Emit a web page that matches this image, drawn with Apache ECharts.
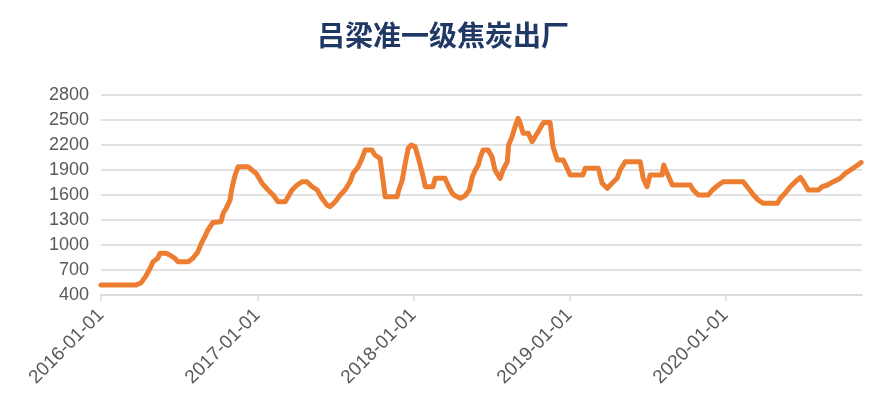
<!DOCTYPE html>
<html>
<head>
<meta charset="utf-8">
<script src="https://cdn.jsdelivr.net/npm/echarts@6/dist/echarts.min.js"></script>
<style>
html,body{margin:0;padding:0;background:#fff;}
#chart{width:886px;height:414px;}
</style>
</head>
<body>
<div id="chart"></div>
<script>
const chartTitle = '吕梁准一级焦炭出厂';
const seriesName = '吕梁准一级焦炭出厂';
const dates = [
'2016-01-01','2016-03-23','2016-04-04','2016-04-14','2016-04-25','2016-05-02','2016-05-13','2016-05-18','2016-06-01','2016-06-10',
'2016-06-22','2016-06-29','2016-07-23','2016-08-03','2016-08-15','2016-08-22','2016-08-31','2016-09-07','2016-09-19','2016-10-08',
'2016-10-13','2016-10-20','2016-10-29','2016-11-01','2016-11-05','2016-11-10','2016-11-17','2016-12-10','2016-12-19','2016-12-29',
'2017-01-12','2017-01-26','2017-02-07','2017-02-18','2017-03-07','2017-03-14','2017-03-23','2017-04-04','2017-04-16','2017-04-27',
'2017-05-09','2017-05-21','2017-06-01','2017-06-13','2017-06-20','2017-07-02','2017-07-14','2017-07-25','2017-08-06','2017-08-13',
'2017-08-25','2017-09-03','2017-09-10','2017-09-26','2017-10-03','2017-10-15','2017-10-22','2017-10-27','2017-11-24','2017-11-28',
'2017-12-06','2017-12-13','2017-12-20','2017-12-27','2018-01-05','2018-01-12','2018-01-22','2018-01-29','2018-02-16','2018-02-21',
'2018-03-16','2018-03-23','2018-04-02','2018-04-09','2018-04-21','2018-05-02','2018-05-12','2018-05-19','2018-05-26','2018-06-02',
'2018-06-06','2018-06-13','2018-06-25','2018-07-04','2018-07-11','2018-07-23','2018-07-30','2018-08-09','2018-08-12','2018-08-20',
'2018-08-27','2018-09-03','2018-09-08','2018-09-15','2018-09-27','2018-10-06','2018-10-13','2018-10-20','2018-10-29','2018-11-02',
'2018-11-17','2018-11-24','2018-12-04','2018-12-18','2018-12-27','2019-01-03','2019-02-02','2019-02-07','2019-03-10','2019-03-19',
'2019-03-31','2019-04-11','2019-04-23','2019-04-30','2019-05-12','2019-06-16','2019-06-23','2019-07-02','2019-07-09','2019-08-06',
'2019-08-10','2019-08-18','2019-08-30','2019-10-11','2019-10-18','2019-10-30','2019-11-22','2019-12-02','2019-12-16','2019-12-27',
'2020-02-12','2020-02-24','2020-03-07','2020-03-18','2020-03-30','2020-05-02','2020-05-09','2020-05-20','2020-06-01','2020-06-13',
'2020-06-25','2020-07-02','2020-07-13','2020-08-06','2020-08-15','2020-08-27','2020-09-10','2020-09-26','2020-10-08','2020-10-20',
'2020-10-31','2020-11-14'
];
const prices = [
520,520,548,620,720,800,840,900,900,880,
840,800,800,840,920,1010,1100,1180,1270,1280,
1380,1440,1540,1640,1740,1840,1940,1940,1900,1860,
1740,1660,1600,1520,1520,1580,1660,1720,1760,1760,
1700,1660,1560,1480,1460,1520,1600,1660,1760,1860,
1940,2040,2140,2140,2080,2040,1780,1580,1580,1660,
1780,1980,2160,2200,2180,2060,1860,1700,1700,1800,
1800,1720,1620,1590,1560,1590,1660,1820,1900,1960,
2040,2140,2140,2060,1900,1800,1900,2000,2200,2300,
2420,2520,2460,2340,2340,2240,2300,2360,2440,2470,
2470,2180,2020,2020,1920,1840,1840,1920,1920,1740,
1680,1740,1800,1900,2000,2000,1800,1700,1840,1840,
1960,1860,1720,1720,1660,1600,1600,1660,1720,1760,
1760,1680,1600,1540,1500,1500,1560,1620,1700,1760,
1810,1760,1660,1660,1700,1720,1760,1800,1860,1900,
1940,1990
];
const xMin = '2016-01-01';
const xMax = '2020-11-16';
const yMin = 400, yMax = 2800, yStep = 300;

const chart = echarts.init(document.getElementById('chart'));
chart.setOption({
  animation: false,
  backgroundColor: '#ffffff',
  title: {
    text: chartTitle,
    left: 'center',
    top: 16,
    textStyle: { fontFamily: 'Noto Sans CJK SC', fontWeight: 'bold', fontSize: 28, color: '#1F3864' }
  },
  grid: { left: 101, right: 24, top: 95, bottom: 119, containLabel: false },
  xAxis: {
    type: 'time',
    min: xMin,
    max: xMax,
    minInterval: 365 * 24 * 3600 * 1000,
    maxInterval: 366 * 24 * 3600 * 1000,
    axisLine: { show: true, lineStyle: { color: '#D9D9D9', width: 1.5 } },
    axisTick: { show: true, length: 6, lineStyle: { color: '#D9D9D9', width: 1.5 } },
    splitLine: { show: false },
    axisLabel: {
      rotate: 45,
      formatter: '{yyyy}-{MM}-{dd}',
      color: '#595959',
      fontFamily: 'Liberation Sans',
      fontSize: 19,
      margin: 17,
      showMinLabel: true,
      showMaxLabel: false
    }
  },
  yAxis: {
    type: 'value',
    min: yMin,
    max: yMax,
    interval: yStep,
    axisLine: { show: false },
    axisTick: { show: false },
    splitLine: { lineStyle: { color: '#D9D9D9', width: 1.5 } },
    axisLabel: { color: '#595959', fontFamily: 'Liberation Sans', fontSize: 18, margin: 12, formatter: v => String(v) }
  },
  series: [{
    name: seriesName,
    type: 'line',
    data: dates.map((d, i) => [d, prices[i]]),
    showSymbol: false,
    symbol: 'none',
    lineStyle: { color: '#ED7D31', width: 5, join: 'round', cap: 'round' },
    itemStyle: { color: '#ED7D31' }
  }]
});
</script>
</body>
</html>
